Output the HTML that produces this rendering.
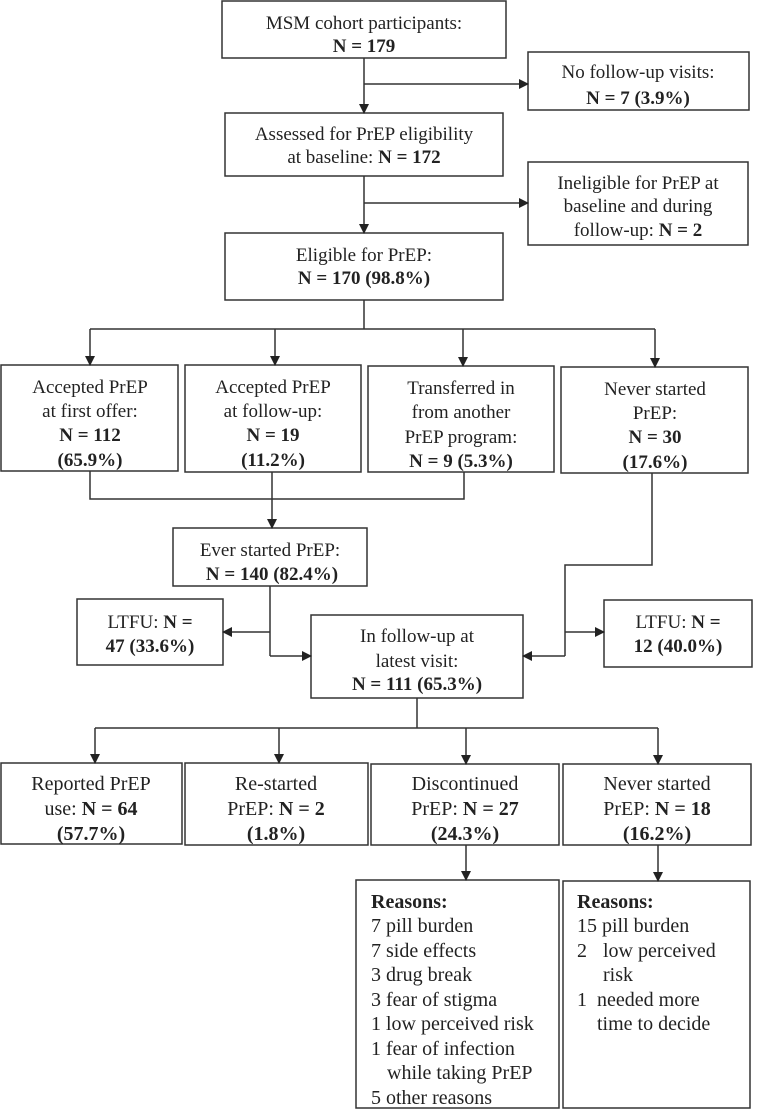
<!DOCTYPE html>
<html><head><meta charset="utf-8"><style>
html,body{margin:0;padding:0;background:#fff}
svg{display:block}
text{font-family:"Liberation Serif",serif;fill:#222;font-size:19px}
.c{text-anchor:middle}
.b{font-weight:bold}
.s{font-size:20px}
</style></head><body>
<svg width="768" height="1110" viewBox="0 0 768 1110" xmlns="http://www.w3.org/2000/svg">
<defs><marker id="a" markerWidth="10" markerHeight="10" refX="9" refY="5" orient="auto" markerUnits="userSpaceOnUse"><path d="M0,0 L10,5 L0,10 z" fill="#222"/></marker></defs>
<g fill="none" stroke="#333" stroke-width="1.5">
<rect x="222" y="1" width="284" height="57"/>
<rect x="528" y="52" width="221" height="58"/>
<rect x="225" y="113" width="278" height="63"/>
<rect x="528" y="162" width="220" height="83"/>
<rect x="225" y="233" width="278" height="67"/>
<rect x="1" y="365" width="177" height="106"/>
<rect x="185" y="365" width="176" height="107"/>
<rect x="368" y="366" width="186" height="106"/>
<rect x="561" y="367" width="187" height="106"/>
<rect x="173" y="528" width="194" height="58"/>
<rect x="77" y="599" width="146" height="66"/>
<rect x="311" y="615" width="212" height="83"/>
<rect x="604" y="600" width="148" height="67"/>
<rect x="1" y="763" width="181" height="81"/>
<rect x="185" y="763" width="183" height="82"/>
<rect x="371" y="764" width="188" height="81"/>
<rect x="563" y="764" width="188" height="81"/>
<rect x="356" y="880" width="203" height="228"/>
<rect x="563" y="881" width="187" height="227"/>
<path d="M364,58 V113" marker-end="url(#a)"/>
<path d="M364,84 H528" marker-end="url(#a)"/>
<path d="M364,176 V233" marker-end="url(#a)"/>
<path d="M364,203 H528" marker-end="url(#a)"/>
<path d="M364,300 V329 M90,329 H655"/>
<path d="M90,329 V365" marker-end="url(#a)"/>
<path d="M275,329 V365" marker-end="url(#a)"/>
<path d="M463,329 V366" marker-end="url(#a)"/>
<path d="M655,329 V367" marker-end="url(#a)"/>
<path d="M90,471 V499 H464 V472 M272,472 V499"/>
<path d="M272,499 V528" marker-end="url(#a)"/>
<path d="M270,586 V656"/>
<path d="M270,632 H223" marker-end="url(#a)"/>
<path d="M270,656 H311" marker-end="url(#a)"/>
<path d="M652,473 V565 H565 V656"/>
<path d="M565,656 H523" marker-end="url(#a)"/>
<path d="M565,632 H604" marker-end="url(#a)"/>
<path d="M417,698 V728 M95,728 H658"/>
<path d="M95,728 V763" marker-end="url(#a)"/>
<path d="M279,728 V763" marker-end="url(#a)"/>
<path d="M466,728 V764" marker-end="url(#a)"/>
<path d="M658,728 V764" marker-end="url(#a)"/>
<path d="M466,845 V880" marker-end="url(#a)"/>
<path d="M658,845 V881" marker-end="url(#a)"/>
</g>
<text class="c" x="364" y="29">MSM cohort participants:</text>
<text class="c b" x="364" y="52">N = 179</text>
<text class="c" x="638" y="78">No follow-up visits:</text>
<text class="c b" x="638" y="104">N = 7 (3.9%)</text>
<text class="c" x="364" y="140">Assessed for PrEP eligibility</text>
<text class="c" x="364" y="163">at baseline:  <tspan class="b">N = 172</tspan></text>
<text class="c" x="638" y="189">Ineligible for PrEP at</text>
<text class="c" x="638" y="212">baseline and during</text>
<text class="c" x="638" y="236">follow-up:  <tspan class="b">N = 2</tspan></text>
<text class="c" x="364" y="261">Eligible for PrEP:</text>
<text class="c b" x="364" y="284">N = 170 (98.8%)</text>
<text class="c" x="90" y="393">Accepted PrEP</text>
<text class="c" x="90" y="417">at first offer:</text>
<text class="c b" x="90" y="441">N = 112</text>
<text class="c b" x="90" y="466">(65.9%)</text>
<text class="c" x="273" y="393">Accepted PrEP</text>
<text class="c" x="273" y="417">at follow-up:</text>
<text class="c b" x="273" y="441">N = 19</text>
<text class="c b" x="273" y="466">(11.2%)</text>
<text class="c" x="461" y="394">Transferred in</text>
<text class="c" x="461" y="418">from another</text>
<text class="c" x="461" y="443">PrEP program:</text>
<text class="c b" x="461" y="467">N = 9 (5.3%)</text>
<text class="c" x="655" y="395">Never started</text>
<text class="c" x="655" y="419">PrEP:</text>
<text class="c b" x="655" y="443">N = 30</text>
<text class="c b" x="655" y="468">(17.6%)</text>
<text class="c" x="270" y="556">Ever started PrEP:</text>
<text class="c b" x="272" y="580">N = 140 (82.4%)</text>
<text class="c" x="150" y="628">LTFU: <tspan class="b">N =</tspan></text>
<text class="c b" x="150" y="652">47 (33.6%)</text>
<text class="c" x="417" y="642">In follow-up at</text>
<text class="c" x="417" y="667">latest visit:</text>
<text class="c b" x="417" y="690">N = 111 (65.3%)</text>
<text class="c" x="678" y="628">LTFU: <tspan class="b">N =</tspan></text>
<text class="c b" x="678" y="652">12 (40.0%)</text>
<g class="s">
<text class="c s" x="91" y="790">Reported PrEP</text>
<text class="c s" x="91" y="815">use: <tspan class="b">N = 64</tspan></text>
<text class="c s b" x="91" y="840">(57.7%)</text>
<text class="c s" x="276" y="790">Re-started</text>
<text class="c s" x="276" y="815">PrEP: <tspan class="b">N = 2</tspan></text>
<text class="c s b" x="276" y="840">(1.8%)</text>
<text class="c s" x="465" y="790">Discontinued</text>
<text class="c s" x="465" y="815">PrEP: <tspan class="b">N = 27</tspan></text>
<text class="c s b" x="465" y="840">(24.3%)</text>
<text class="c s" x="657" y="790">Never started</text>
<text class="c s" x="657" y="815">PrEP: <tspan class="b">N = 18</tspan></text>
<text class="c s b" x="657" y="840">(16.2%)</text>
<text class="s b" x="371" y="908">Reasons:</text>
<text class="s" x="371" y="932">7 pill burden</text>
<text class="s" x="371" y="957">7 side effects</text>
<text class="s" x="371" y="981">3 drug break</text>
<text class="s" x="371" y="1006">3 fear of stigma</text>
<text class="s" x="371" y="1030">1 low perceived risk</text>
<text class="s" x="371" y="1055">1 fear of infection</text>
<text class="s" x="387" y="1079">while taking PrEP</text>
<text class="s" x="371" y="1104">5 other reasons</text>
<text class="s b" x="577" y="908">Reasons:</text>
<text class="s" x="577" y="932">15 pill burden</text>
<text class="s" x="577" y="957">2</text>
<text class="s" x="603" y="957">low perceived</text>
<text class="s" x="603" y="981">risk</text>
<text class="s" x="577" y="1006">1</text>
<text class="s" x="597" y="1006">needed more</text>
<text class="s" x="597" y="1030">time to decide</text>
</g>
</svg>
</body></html>
